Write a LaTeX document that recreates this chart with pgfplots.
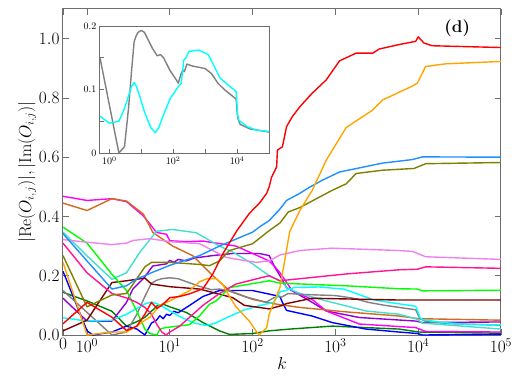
\documentclass[border=0pt]{standalone}
\usepackage{pgfplots}
\pgfplotsset{compat=1.18}
\definecolor{cOrange}{RGB}{255,165,0}
\definecolor{cDodger}{RGB}{30,144,255}
\definecolor{cOlive}{RGB}{128,128,0}
\definecolor{cViolet}{RGB}{238,130,238}
\definecolor{cDeepPink}{RGB}{255,20,147}
\definecolor{cLime}{RGB}{0,255,0}
\definecolor{cMaroon}{RGB}{128,0,0}
\definecolor{cCyan}{RGB}{0,255,255}
\definecolor{cGray}{RGB}{128,128,128}
\definecolor{cTurq}{RGB}{64,224,208}
\definecolor{cChoc}{RGB}{210,105,30}
\definecolor{cPurple}{RGB}{148,0,211}
\definecolor{cMagenta}{RGB}{255,0,255}
\definecolor{cBlue}{RGB}{0,0,255}
\definecolor{cDGreen}{RGB}{0,128,0}
\definecolor{cRed}{RGB}{255,0,0}
\definecolor{frame}{RGB}{110,110,110}
\begin{document}
\begin{tikzpicture}
\path[use as bounding box] (-63pt,-54pt) rectangle (460pt,335pt);
\begin{axis}[
  at={(0pt,0pt)}, anchor=south west,
  scale only axis, width=438pt, height=326pt,
  xmin=-0.29, xmax=5, ymin=0, ymax=1.1,
  axis line style={draw=frame, line width=1pt},
  tick style={draw=frame, line width=0.8pt},
  major tick length=6pt,
  tick align=inside,
  xtick={-0.29,0,1,2,3,4,5},
  xticklabels={$0$,$10^{0}$,$10^{1}$,$10^{2}$,$10^{3}$,$10^{4}$,$10^{5}$},
  ytick={0,0.2,0.4,0.6,0.8,1.0},
  yticklabel style={/pgf/number format/fixed, /pgf/number format/fixed zerofill, /pgf/number format/precision=1},
  tick label style={font=\fontsize{17}{17}\selectfont},
  label style={font=\fontsize{18}{18}\selectfont},
  xlabel={$k$},
  ylabel={$|\mathrm{Re}(O_{i,j})|, |\mathrm{Im}(O_{i,j})|$},
  xlabel style={yshift=2pt},
  ylabel style={yshift=-4pt},
  every axis plot/.append style={line width=1.4pt, line join=round},
  clip=true,
]
% dark green
\addplot[cDGreen] coordinates {(-0.29,0.144)(0,0.115)(0.301,0.08)(0.477,0.03)(0.602,0.045)(0.699,0.06)(0.778,0.08)(0.845,0.098)(0.92,0.104)(1.0,0.095)(1.2,0.076)(1.4,0.042)(1.6,0.014)(1.72,0.002)(2.0,0.005)(2.2,0.014)(2.45,0.02)(2.96,0.03)(3.77,0.02)(4.01,0.01)(5,0.006)};
% blue
\addplot[cBlue] coordinates {(-0.29,0.215)(0,0.014)(0.07,0.0)(0.301,0.01)(0.477,0.03)(0.602,0.02)(0.699,0.0)(0.778,0.04)(0.84,0.05)(0.88,0.065)(0.92,0.055)(0.96,0.07)(1.0,0.066)(1.05,0.08)(1.1,0.075)(1.24,0.10)(1.4,0.13)(1.6,0.15)(2.0,0.15)(2.2,0.138)(2.33,0.13)(2.36,0.11)(2.41,0.083)(2.72,0.064)(2.96,0.042)(3.37,0.02)(3.77,0.01)(3.99,0.005)(4.05,0.0)(5,0.002)};
% purple
\addplot[cPurple] coordinates {(-0.29,0.124)(0,0.047)(0.301,0.047)(0.477,0.11)(0.554,0.155)(0.68,0.19)(0.795,0.233)(0.96,0.24)(1.0,0.252)(1.05,0.245)(1.1,0.255)(1.2,0.25)(1.3,0.26)(1.52,0.268)(1.76,0.275)(2.08,0.275)(2.2,0.268)(2.27,0.228)(2.33,0.2)(2.41,0.16)(2.69,0.115)(2.89,0.081)(3.29,0.059)(3.97,0.047)(4.05,0.042)(5,0.044)};
% magenta
\addplot[cMagenta] coordinates {(-0.29,0.468)(0,0.454)(0.301,0.46)(0.477,0.45)(0.68,0.402)(0.84,0.346)(0.96,0.34)(1.0,0.318)(1.2,0.315)(1.4,0.317)(1.8,0.30)(2.12,0.26)(2.2,0.25)(2.27,0.23)(2.33,0.21)(2.48,0.149)(2.72,0.12)(2.89,0.081)(3.29,0.037)(3.97,0.025)(4.09,0.012)(5,0.01)};
% chocolate
\addplot[cChoc] coordinates {(-0.29,0.445)(0,0.42)(0.301,0.46)(0.477,0.452)(0.68,0.408)(0.795,0.346)(1.036,0.30)(1.28,0.267)(1.52,0.20)(1.72,0.15)(2.0,0.12)(2.29,0.104)(2.57,0.093)(3.13,0.078)(3.77,0.064)(4.01,0.055)(5,0.05)};
% turquoise
\addplot[cTurq] coordinates {(-0.29,0.347)(0,0.267)(0.301,0.188)(0.477,0.21)(0.64,0.28)(0.84,0.35)(1.0,0.355)(1.036,0.356)(1.32,0.345)(1.6,0.30)(1.76,0.28)(2.0,0.24)(2.2,0.20)(2.36,0.178)(2.41,0.16)(2.57,0.14)(2.89,0.115)(3.37,0.081)(3.77,0.07)(3.99,0.053)(4.05,0.04)(5,0.02)};
% gray
\addplot[cGray] coordinates {(-0.29,0.15)(0.301,0.0)(0.477,0.01)(0.602,0.07)(0.699,0.13)(0.778,0.175)(0.845,0.185)(0.903,0.19)(1.0,0.193)(1.1,0.19)(1.2,0.18)(1.35,0.165)(1.5,0.153)(1.6,0.155)(1.7,0.15)(1.9,0.13)(2.1,0.115)(2.16,0.11)(2.25,0.125)(2.3,0.13)(2.35,0.128)(2.43,0.14)(2.6,0.137)(3.0,0.133)(3.2,0.125)(3.4,0.11)(3.6,0.1)(3.97,0.085)(4.02,0.055)(4.1,0.045)(4.4,0.038)(5,0.033)};
% cyan
\addplot[cCyan] coordinates {(-0.29,0.058)(0,0.047)(0.301,0.05)(0.477,0.07)(0.602,0.09)(0.699,0.105)(0.78,0.111)(0.85,0.105)(0.95,0.09)(1.1,0.065)(1.3,0.04)(1.44,0.032)(1.55,0.04)(1.7,0.06)(1.9,0.085)(2.1,0.1)(2.25,0.11)(2.3,0.13)(2.33,0.146)(2.4,0.15)(2.5,0.16)(2.8,0.162)(3.1,0.155)(3.3,0.135)(3.47,0.118)(3.7,0.108)(3.97,0.097)(4.02,0.06)(4.05,0.052)(4.3,0.042)(4.6,0.036)(5,0.034)};
% maroon
\addplot[cMaroon] coordinates {(-0.29,0.014)(0,0.05)(0.301,0.177)(0.477,0.183)(0.602,0.188)(0.699,0.192)(0.778,0.172)(1.0,0.163)(1.36,0.155)(1.76,0.126)(1.9,0.10)(2.08,0.093)(2.2,0.088)(2.36,0.10)(2.41,0.106)(2.72,0.124)(3.77,0.118)(5,0.118)};
% lime
\addplot[cLime] coordinates {(-0.29,0.364)(0,0.31)(0.301,0.205)(0.477,0.15)(0.602,0.08)(0.699,0.02)(0.76,0.005)(0.845,0.0)(0.88,0.02)(0.95,0.025)(1.24,0.035)(1.36,0.065)(1.48,0.104)(1.56,0.115)(1.72,0.16)(2.2,0.183)(2.33,0.175)(3.13,0.166)(3.77,0.156)(3.99,0.155)(4.05,0.149)(5,0.151)};
% deeppink
\addplot[cDeepPink] coordinates {(-0.29,0.31)(0,0.21)(0.301,0.14)(0.477,0.125)(0.602,0.11)(0.699,0.093)(0.778,0.07)(0.845,0.035)(0.903,0.01)(0.954,0.0)(1.0,0.01)(1.12,0.03)(1.24,0.06)(1.4,0.10)(1.6,0.14)(1.8,0.172)(2.2,0.20)(2.33,0.183)(3.13,0.206)(3.77,0.22)(3.99,0.222)(4.09,0.23)(5,0.225)};
% violet
\addplot[cViolet] coordinates {(-0.29,0.322)(0,0.313)(0.301,0.305)(0.477,0.31)(0.554,0.319)(0.76,0.325)(1.0,0.315)(1.36,0.308)(1.68,0.262)(1.8,0.256)(2.04,0.245)(2.2,0.25)(2.33,0.27)(2.57,0.285)(2.96,0.293)(3.77,0.285)(3.93,0.282)(4.09,0.264)(5,0.255)};
% olive
\addplot[cOlive] coordinates {(-0.29,0.268)(0,0.095)(0.301,0.135)(0.477,0.14)(0.602,0.19)(0.699,0.23)(0.778,0.245)(1.0,0.245)(1.36,0.238)(1.48,0.234)(1.6,0.25)(1.72,0.285)(2.0,0.308)(2.2,0.352)(2.33,0.378)(2.43,0.415)(2.57,0.43)(2.96,0.488)(3.13,0.51)(3.25,0.545)(3.57,0.556)(3.95,0.562)(4.09,0.578)(5,0.582)};
% dodgerblue
\addplot[cDodger] coordinates {(-0.29,0.342)(0,0.25)(0.301,0.155)(0.477,0.166)(0.602,0.19)(0.699,0.2)(0.778,0.21)(1.0,0.235)(1.36,0.268)(1.6,0.30)(1.76,0.319)(2.0,0.347)(2.08,0.364)(2.2,0.386)(2.33,0.425)(2.41,0.454)(2.57,0.478)(2.69,0.499)(2.84,0.522)(3.05,0.55)(3.57,0.58)(3.93,0.592)(4.05,0.601)(5,0.6)};
% orange
\addplot[cOrange] coordinates {(-0.29,0.245)(0,0.0)(0.301,0.01)(0.477,0.01)(0.602,0.03)(0.699,0.05)(0.76,0.06)(0.88,0.10)(1.0,0.115)(1.24,0.15)(1.36,0.18)(1.45,0.19)(1.56,0.19)(1.64,0.17)(1.72,0.13)(1.8,0.095)(1.96,0.047)(2.04,0.014)(2.08,0.0)(2.17,0.025)(2.2,0.07)(2.33,0.16)(2.4,0.27)(2.43,0.32)(2.45,0.35)(2.57,0.42)(2.72,0.488)(2.89,0.59)(3.13,0.70)(3.45,0.759)(3.57,0.793)(3.93,0.84)(3.99,0.85)(4.09,0.906)(4.33,0.915)(5,0.923)};
% red
\addplot[cRed] coordinates {(-0.29,0.038)(0,0.11)(0.301,0.06)(0.477,0.015)(0.602,0.03)(0.699,0.07)(0.778,0.11)(0.845,0.09)(0.903,0.10)(1.0,0.126)(1.12,0.13)(1.24,0.139)(1.4,0.156)(1.52,0.206)(1.64,0.274)(1.81,0.352)(1.96,0.41)(2.08,0.444)(2.17,0.478)(2.2,0.5)(2.23,0.533)(2.29,0.567)(2.3,0.624)(2.36,0.635)(2.41,0.703)(2.48,0.737)(2.57,0.77)(2.72,0.816)(2.89,0.861)(3.05,0.925)(3.25,0.951)(3.45,0.951)(3.53,0.965)(3.77,0.98)(3.97,0.991)(4.0,1.006)(4.07,0.985)(4.17,0.976)(5,0.97)};
\node[font=\fontsize{17}{17}\selectfont] at (rel axis cs:0.90,0.94) {\textbf{(d)}};
\end{axis}
\begin{axis}[
  at={(37pt,182pt)}, anchor=south west,
  scale only axis, width=169pt, height=127pt,
  xmin=-0.29, xmax=5, ymin=0, ymax=0.2,
  axis background/.style={fill=white},
  axis line style={draw=frame, line width=1pt},
  tick style={draw=frame, line width=0.7pt},
  major tick length=4pt, minor tick length=4pt,
  tick align=inside,
  xtick={0,2,4}, minor xtick={1,3},
  xticklabels={$10^{0}$,$10^{2}$,$10^{4}$},
  ytick={0,0.1,0.2}, minor ytick={0.05,0.15},
  yticklabels={$0$,$0.1$,$0.2$},
  xtick pos=bottom, ytick pos=left,
  tick label style={font=\fontsize{10}{10}\selectfont},
  every axis plot/.append style={line width=1.4pt, line join=round},
]
\addplot[cGray] coordinates {(-0.29,0.15)(0.301,0.0)(0.477,0.01)(0.602,0.07)(0.699,0.13)(0.778,0.175)(0.845,0.185)(0.903,0.19)(1.0,0.193)(1.1,0.19)(1.2,0.18)(1.35,0.165)(1.5,0.153)(1.6,0.155)(1.7,0.15)(1.9,0.13)(2.1,0.115)(2.16,0.11)(2.25,0.125)(2.3,0.13)(2.35,0.128)(2.43,0.14)(2.6,0.137)(3.0,0.133)(3.2,0.125)(3.4,0.11)(3.6,0.1)(3.97,0.085)(4.02,0.055)(4.1,0.045)(4.4,0.038)(5,0.033)};
\addplot[cCyan] coordinates {(-0.29,0.058)(0,0.047)(0.301,0.05)(0.477,0.07)(0.602,0.09)(0.699,0.105)(0.78,0.111)(0.85,0.105)(0.95,0.09)(1.1,0.065)(1.3,0.04)(1.44,0.032)(1.55,0.04)(1.7,0.06)(1.9,0.085)(2.1,0.1)(2.25,0.11)(2.3,0.13)(2.33,0.146)(2.4,0.15)(2.5,0.16)(2.8,0.162)(3.1,0.155)(3.3,0.135)(3.47,0.118)(3.7,0.108)(3.97,0.097)(4.02,0.06)(4.05,0.052)(4.3,0.042)(4.6,0.036)(5,0.034)};
\end{axis}
\end{tikzpicture}
\end{document}
